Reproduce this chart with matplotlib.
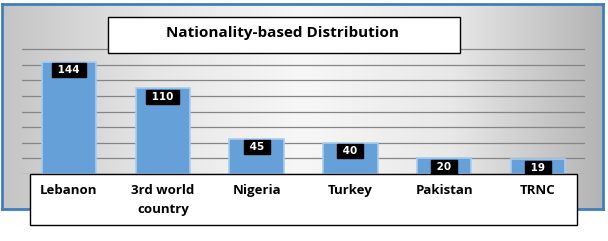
import numpy as np
import matplotlib.pyplot as plt
from matplotlib.colors import LinearSegmentedColormap
from matplotlib.patches import Rectangle
from matplotlib.transforms import blended_transform_factory

plt.rcParams['font.family'] = ['Open Sans', 'DejaVu Sans']

countries = ['Lebanon', '3rd world\ncountry', 'Nigeria', 'Turkey', 'Pakistan', 'TRNC']
counts = [144, 110, 45, 40, 20, 19]
title = 'Nationality-based Distribution'

W, H = 608, 241
fig = plt.figure(figsize=(W / 100, H / 100), dpi=100)
fig.patch.set_facecolor('white')


def fbox(x0, y0, x1, y1):
    # pixel box (top-left origin) -> figure fraction [l, b, w, h]
    return [x0 / W, 1 - y1 / H, (x1 - x0) / W, (y1 - y0) / H]


# gradient chart frame
bg = fig.add_axes(fbox(2, 4, 603, 209))
cmap = LinearSegmentedColormap.from_list('bg', ['#c4c4c4', '#e6e6e6', '#f7f7f7', '#e8e8e8', '#b4b4b4'])
bg.imshow(np.linspace(0, 1, 256)[None, :], aspect='auto', cmap=cmap, extent=[0, 1, 0, 1])
bg.set_xticks([])
bg.set_yticks([])
for s in bg.spines.values():
    s.set_color('#3f7fbf')
    s.set_linewidth(2)

# plot area
ax = fig.add_axes(fbox(22, 33.6, 585, 174))
ax.patch.set_alpha(0)
x = np.arange(len(countries))
bars = ax.bar(x, counts, width=0.58, color='#65a0d8', edgecolor='#a9cdee', linewidth=1.2, zorder=3)
ax.set_xlim(-0.5, len(countries) - 0.5)
ax.set_ylim(0, 180)
ax.set_yticks(np.arange(0, 161, 20))
ax.yaxis.grid(True, color='#858585', linewidth=0.9)
ax.tick_params(left=False, bottom=False, labelleft=False, labelbottom=False)
for s in ax.spines.values():
    s.set_visible(False)

for xi, v in zip(x, counts):
    ax.annotate(f' {v} ', (xi, v), xytext=(0, -2.5), textcoords='offset points',
                ha='center', va='top', color='white', fontsize=7.5, fontweight='bold',
                family='DejaVu Sans',
                bbox=dict(boxstyle='square,pad=0.2', fc='black', ec='black'), zorder=5)

# title box
tb = fbox(108, 17, 460, 53)
fig.patches.append(Rectangle((tb[0], tb[1]), tb[2], tb[3], transform=fig.transFigure,
                             fc='white', ec='black', lw=1, zorder=10))
fig.text(283 / W, 1 - 33 / H, title, ha='center', va='center',
         fontsize=11, fontweight='bold', zorder=11)

# category label box
lb = fbox(30, 174, 577, 225)
fig.patches.append(Rectangle((lb[0], lb[1]), lb[2], lb[3], transform=fig.transFigure,
                             fc='white', ec='black', lw=1, zorder=10))
tr = blended_transform_factory(ax.transData, fig.transFigure)
for xi, name in zip(x, countries):
    fig.text(xi, 1 - 184 / H, name, transform=tr, ha='center', va='top',
             fontsize=9.5, fontweight='bold', linespacing=1.6, zorder=11)

fig.savefig('out.png', dpi=100)
